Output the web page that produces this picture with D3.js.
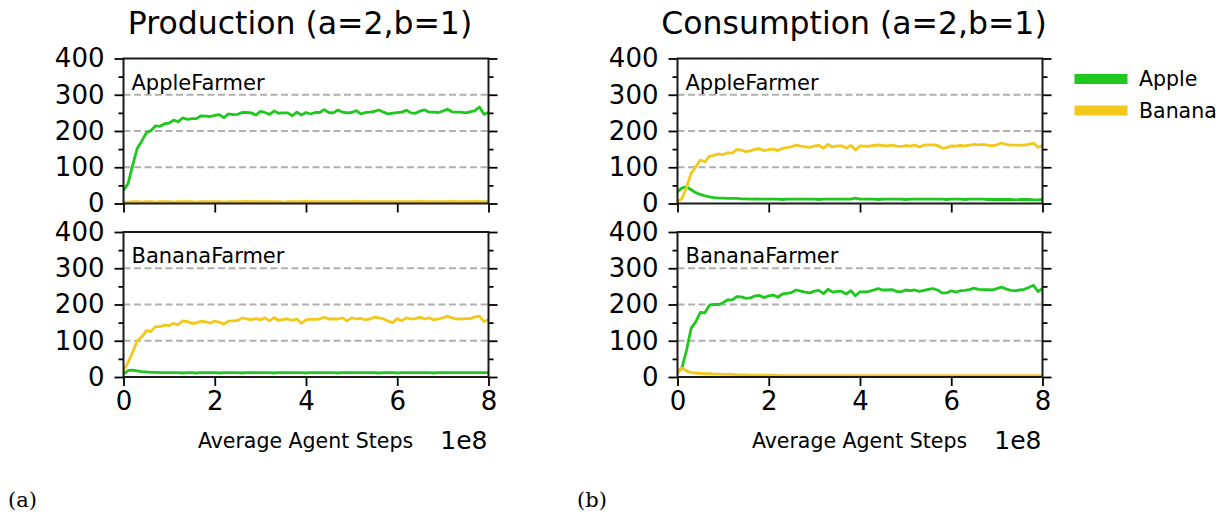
<!DOCTYPE html>
<html><head><meta charset="utf-8">
<script src="https://cdn.jsdelivr.net/npm/d3@7/dist/d3.min.js"></script>
<style>
body{margin:0;background:#fff}
svg{display:block}
text{font-family:"DejaVu Sans",sans-serif;fill:#000}
</style>
</head><body>
<svg id="chart" width="1226" height="520"></svg>
<script>
// ---- data ----
const steps = d3.range(0, 81).map(i => i * 1e7);
const yTicks = [0, 100, 200, 300, 400];
const yMinorTicks = [50, 150, 250, 350];
const xTicks = [0, 2e8, 4e8, 6e8, 8e8];
const xTickLabels = ["0", "2", "4", "6", "8"];
const seriesNames = ["Apple", "Banana"];
const seriesColors = ["#1ec81e", "#f2c81a"];
const columnTitles = ["Production (a=2,b=1)", "Consumption (a=2,b=1)"];
const rowNames = ["AppleFarmer", "BananaFarmer"];
const columnTags = ["(a)", "(b)"];

const prodAppleFarmerApple = [36,55,105,152,172,195,201,214,213,220,222,230,226,236,232,234,234,242,241,240,243,245,237,247,245,246,251,251,250,244,254,251,246,255,249,250,250,242,252,244,251,247,251,251,259,251,250,258,252,250,251,256,247,251,252,254,258,252,247,249,251,252,257,250,249,255,258,252,252,251,255,260,253,252,252,250,253,256,266,246,251];
const prodAppleFarmerBanana = [3,4,5,5,4,5,5,4,5,5,5,4,5,5,5,5,4,5,5,5,5,5,4,5,5,5,5,6,5,5,5,5,5,5,5,4,5,5,5,5,6,5,5,5,5,5,5,5,5,5,5,6,5,5,5,5,5,5,5,5,5,5,5,5,5,6,5,5,5,5,5,5,6,5,5,5,5,6,5,5,5];
const prodBananaFarmerApple = [8,18,19,17,15,14,13,13,12,12,12,12,12,11,12,12,11,12,12,12,12,11,12,12,12,12,11,12,12,12,12,12,12,11,12,12,12,12,12,12,11,12,12,12,12,12,12,11,12,12,12,12,12,12,12,12,11,12,12,12,11,12,12,12,12,12,12,12,11,12,12,12,12,12,12,12,12,12,12,12,12];
const prodBananaFarmerBanana = [18,40,68,100,110,128,125,139,139,143,142,148,144,155,153,148,149,154,152,149,154,151,146,154,155,156,163,160,158,161,158,163,155,164,156,159,160,156,160,148,158,159,159,160,165,160,160,160,163,155,163,160,162,158,160,165,163,160,154,150,161,155,163,160,161,165,160,163,158,160,163,168,163,160,160,161,161,165,168,153,158];
const consAppleFarmerApple = [33,43,46,38,30,25,21,18,16,15,15,14,14,14,13,13,12,13,12,12,12,12,12,11,12,12,12,12,12,12,12,11,12,12,12,12,12,12,12,15,12,12,12,12,11,12,12,12,12,12,11,12,12,12,12,12,12,12,12,11,12,12,12,11,12,12,12,12,11,11,11,11,11,11,10,11,11,11,10,10,11];
const consAppleFarmerBanana = [5,14,45,84,101,120,115,131,133,137,135,140,139,149,147,143,145,150,151,146,149,150,146,152,154,157,161,158,156,155,159,160,153,163,156,159,159,153,160,148,159,158,158,160,162,160,159,161,158,157,160,158,161,156,161,162,162,160,153,154,159,158,160,159,161,163,162,163,161,159,162,167,163,161,161,161,161,163,167,155,160];
const consBananaFarmerApple = [12,26,75,135,152,178,177,198,200,200,205,213,213,222,221,217,218,224,225,219,224,226,220,229,231,233,240,237,234,232,237,239,230,242,234,236,236,229,238,224,235,235,236,240,244,240,240,241,236,235,240,238,240,236,239,242,244,240,232,232,238,234,238,239,241,245,242,241,241,240,244,248,243,239,238,240,242,247,253,236,244];
const consBananaFarmerBanana = [10,25,16,12,11,10,9,9,8,8,7,7,7,6,6,6,5,5,5,5,5,5,4,4,4,4,4,4,4,4,4,4,4,4,4,4,4,4,4,4,4,4,4,4,4,4,4,4,4,4,4,4,4,4,4,4,4,4,4,4,4,4,4,4,4,4,4,4,4,4,4,4,4,4,4,4,4,4,4,4,4];

// panel table built from the arrays: [column][row] -> [apple, banana]
const panelData = [
  [[prodAppleFarmerApple, prodAppleFarmerBanana], [prodBananaFarmerApple, prodBananaFarmerBanana]],
  [[consAppleFarmerApple, consAppleFarmerBanana], [consBananaFarmerApple, consBananaFarmerBanana]]
];

// ---- layout ----
const svg = d3.select("#chart");
const colX = [123.5, 677.5];
const plotW = 365;
const rowY = [58.5, 232];
const plotH = 145;

columnTitles.forEach((title, c) => {
  const x0 = colX[c];
  const x = d3.scaleLinear().domain([0, 8e8]).range([x0, x0 + plotW]);

  svg.append("text").attr("x", x0 + plotW / 2 - 6).attr("y", 34)
    .attr("text-anchor", "middle").style("font-size", "31.5px").text(title);

  rowNames.forEach((rname, r) => {
    const y0 = rowY[r];
    const y = d3.scaleLinear().domain([0, 400]).range([y0 + plotH, y0]);
    const g = svg.append("g");

    // grid
    g.selectAll(".grid").data([100, 200, 300]).enter().append("line")
      .attr("x1", x0).attr("x2", x0 + plotW)
      .attr("y1", d => y(d)).attr("y2", d => y(d))
      .attr("stroke", "#b0b0b0").attr("stroke-width", 1.8)
      .attr("stroke-dasharray", "7,3.5");

    // lines
    const clipId = `clip${c}${r}`;
    svg.append("clipPath").attr("id", clipId).append("rect")
      .attr("x", x0).attr("y", y0).attr("width", plotW).attr("height", plotH);
    const line = d3.line().x((d, i) => x(steps[i])).y(d => y(d));
    panelData[c][r].forEach((vals, s) => {
      g.append("path").datum(vals).attr("d", line)
        .attr("fill", "none").attr("stroke", seriesColors[s])
        .attr("stroke-width", 2.8).attr("stroke-linejoin", "round")
        .attr("clip-path", `url(#${clipId})`);
    });

    // axes
    const axL = d3.axisLeft(y).tickValues(yTicks).tickSize(9).tickPadding(10).tickFormat(d3.format("d"));
    const axLm = d3.axisLeft(y).tickValues(yMinorTicks).tickSize(5).tickFormat("");
    const axR = d3.axisRight(y).tickValues(yTicks).tickSize(9).tickFormat("");
    const axRm = d3.axisRight(y).tickValues(yMinorTicks).tickSize(5).tickFormat("");
    const axB = d3.axisBottom(x).tickValues(xTicks).tickSize(9).tickPadding(6)
      .tickFormat((d, i) => r === 1 ? xTickLabels[i] : "");

    const styleAxis = sel => {
      sel.select(".domain").remove();
      sel.selectAll("line").attr("stroke", "#000").attr("stroke-width", 1.8);
      sel.selectAll("text").style("font-size", "26px").style("font-family", "DejaVu Sans");
    };
    g.append("g").attr("transform", `translate(${x0},0)`).call(axL).call(styleAxis);
    g.append("g").attr("transform", `translate(${x0},0)`).call(axLm).call(styleAxis);
    g.append("g").attr("transform", `translate(${x0 + plotW},0)`).call(axR).call(styleAxis);
    g.append("g").attr("transform", `translate(${x0 + plotW},0)`).call(axRm).call(styleAxis);
    g.append("g").attr("transform", `translate(0,${y0 + plotH})`).call(axB).call(styleAxis);

    // frame
    g.append("rect").attr("x", x0).attr("y", y0).attr("width", plotW).attr("height", plotH)
      .attr("fill", "none").attr("stroke", "#1a1a1a").attr("stroke-width", 2);

    // panel label
    g.append("text").attr("x", x0 + 8).attr("y", y0 + 31)
      .style("font-size", "21px").text(rname);
  });

  // x label and offset
  svg.append("text").attr("x", x0 + 182).attr("y", 448)
    .attr("text-anchor", "middle").style("font-size", "20.5px").text("Average Agent Steps");
  svg.append("text").attr("x", x0 + plotW - 1).attr("y", 449)
    .attr("text-anchor", "end").style("font-size", "25px").text("1e8");

  // tag
  svg.append("text").attr("x", c === 0 ? 8 : 577).attr("y", 507)
    .style("font-family", "'DejaVu Serif', serif").style("font-size", "21px").text(columnTags[c]);
});

// legend
const lg = svg.append("g");
seriesNames.forEach((name, i) => {
  const cy = 79 + i * 31.5;
  lg.append("rect").attr("x", 1074.5).attr("y", cy - 5).attr("width", 53).attr("height", 10)
    .attr("fill", seriesColors[i]);
  lg.append("text").attr("x", 1139).attr("y", cy + 7).style("font-size", "20.5px").text(name);
});
</script>
</body></html>
